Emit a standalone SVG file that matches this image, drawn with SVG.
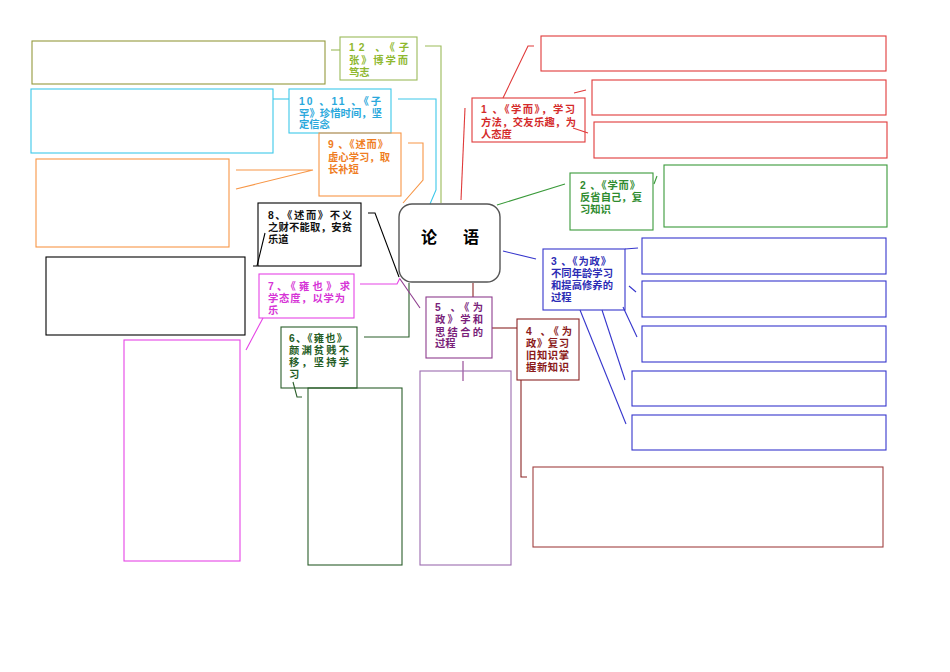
<svg xmlns="http://www.w3.org/2000/svg" width="950" height="672" viewBox="0 0 950 672">
<style>
rect{fill:none;stroke-width:1.1}
line,polyline{fill:none;stroke-width:1.1}
text{font-family:"Liberation Sans","Noto Sans CJK SC",sans-serif;font-size:10.3px;font-weight:bold}
.ol{stroke:#9bbb59}.olt{fill:#8fb82e}
.cy{stroke:#3cc8ea}.cyt{fill:#2aa8dc}
.or{stroke:#f79646}.ort{fill:#ef7d22}
.bk{stroke:#000}.bkt{fill:#111}
.mg{stroke:#e544e5}.mgt{fill:#d633d6}
.dg{stroke:#2a5e2a}.dgt{fill:#245c24}
.pu{stroke:#8e3c8e}.put{fill:#7a1f7a}
.dr{stroke:#8b2525}.drt{fill:#8b1a1a}
.bl{stroke:#3535cc}.blt{fill:#2b2bb5}
.gr{stroke:#3a9a3a}.grt{fill:#2e8b2e}
.rd{stroke:#e03a3a}.rdt{fill:#d42a2a}
</style>
<rect width="950" height="672" fill="#fff" style="stroke:none"/>

<g id="connectors">
  <polyline class="ol" points="331,50 340,50"/>
  <polyline class="ol" points="425,46 441,46 441,203"/>
  <polyline class="cy" points="273,99 289,99"/>
  <polyline class="cy" points="398,99 436,99 436,190 430,204"/>
  <polyline class="or" points="236,170 313,170 236,189"/>
  <polyline class="or" points="408,143 423,143 423,180 403,203"/>
  <polyline class="bk" points="253,266 257,266 265,233"/>
  <polyline class="bk" points="368,213 375,213 399,277"/>
  <polyline class="mg" points="263,318 246,350"/>
  <polyline class="mg" points="360,284 397,284 400,278"/>
  <polyline class="dg" points="293,382 297,397 302,397"/>
  <polyline class="dg" points="364,337 409,337 409,283"/>
  <polyline class="pu" points="400,279 420,308"/>
  <polyline class="pu" points="463,361 463,381"/>
  <polyline class="dr" points="473,283 473,297"/>
  <polyline class="dr" points="492,328 517,328"/>
  <polyline class="dr" points="521,380 521,477 527,477"/>
  <polyline class="bl" points="503,251 536,259"/>
  <polyline class="bl" points="625,249 638,248"/>
  <polyline class="bl" points="629,286 636,292"/>
  <polyline class="bl" points="623,307 637,337"/>
  <polyline class="bl" points="602,310 625,380"/>
  <polyline class="bl" points="580,310 626,424"/>
  <polyline class="gr" points="497,205 565,184"/>
  <polyline class="gr" points="654,184 657,176"/>
  <polyline class="rd" points="503,98 528,46 534,46"/>
  <polyline class="rd" points="574,93 586,90"/>
  <polyline class="rd" points="573,128 588,133"/>
  <polyline class="rd" points="465,108 461,200"/>
</g>

<g id="center">
  <rect x="399" y="204" width="101" height="78" rx="13" ry="13" style="stroke:#555;stroke-width:1.4"/>
  <text style="font-size:16px" fill="#000" y="243"><tspan x="421">论</tspan><tspan x="463">语</tspan></text>
</g>

<g id="node12">
  <rect class="ol" x="340" y="37" width="77" height="43"/>
  <text class="olt" x="349" y="51" textLength="60" lengthAdjust="spacing">12 、《子</text>
  <text class="olt" x="349" y="64" textLength="59" lengthAdjust="spacing">张》博学而</text>
  <text class="olt" x="349" y="76">笃志</text>
</g>
<g id="box12"><rect x="32" y="41" width="293" height="43" style="stroke:#949a3c"/></g>

<g id="node10">
  <rect class="cy" x="289" y="89" width="102" height="44"/>
  <text class="cyt" x="299" y="105" textLength="82" lengthAdjust="spacing">10 、11 、《子</text>
  <text class="cyt" x="299" y="117" textLength="83" lengthAdjust="spacing">罕》珍惜时间，坚</text>
  <text class="cyt" x="299" y="128">定信念</text>
</g>
<g id="box10"><rect class="cy" x="31" y="89" width="242" height="64"/></g>

<g id="node9">
  <rect class="or" x="319" y="133" width="82" height="63"/>
  <text class="ort" x="328" y="148" textLength="60" lengthAdjust="spacing">9 、《述而》</text>
  <text class="ort" x="328" y="161" textLength="62" lengthAdjust="spacing">虚心学习，取</text>
  <text class="ort" x="328" y="173">长补短</text>
</g>
<g id="box9"><rect class="or" x="36" y="159" width="193" height="88"/></g>

<g id="node8">
  <rect class="bk" x="258" y="203" width="103" height="63"/>
  <text class="bkt" x="268" y="219" textLength="84" lengthAdjust="spacing">8、《述而》不义</text>
  <text class="bkt" x="268" y="231" textLength="84" lengthAdjust="spacing">之财不能取，安贫</text>
  <text class="bkt" x="268" y="243">乐道</text>
</g>
<g id="box8"><rect class="bk" x="46" y="257" width="199" height="78"/></g>

<g id="node7">
  <rect class="mg" x="259" y="274" width="95" height="44"/>
  <text class="mgt" x="268" y="290" textLength="82" lengthAdjust="spacing">7、《雍也》求</text>
  <text class="mgt" x="268" y="302" textLength="77" lengthAdjust="spacing">学态度，以学为</text>
  <text class="mgt" x="268" y="314">乐</text>
</g>
<g id="box7"><rect class="mg" x="124" y="340" width="116" height="221"/></g>

<g id="node6">
  <rect class="dg" x="281" y="327" width="76" height="61"/>
  <text class="dgt" x="289" y="342" textLength="58" lengthAdjust="spacing">6、《雍也》</text>
  <text class="dgt" x="289" y="354" textLength="60" lengthAdjust="spacing">颜渊贫贱不</text>
  <text class="dgt" x="289" y="366" textLength="60" lengthAdjust="spacing">移，坚持学</text>
  <text class="dgt" x="289" y="378">习</text>
</g>
<g id="box6"><rect class="dg" x="308" y="388" width="94" height="177"/></g>

<g id="node5">
  <rect class="pu" x="426" y="297" width="66" height="61"/>
  <text class="put" x="435" y="311" textLength="48" lengthAdjust="spacing">5 、《为</text>
  <text class="put" x="435" y="323" textLength="48" lengthAdjust="spacing">政》学和</text>
  <text class="put" x="435" y="336" textLength="48" lengthAdjust="spacing">思结合的</text>
  <text class="put" x="435" y="347">过程</text>
</g>
<g id="box5"><rect x="420" y="371" width="91" height="194" style="stroke:#9c6cb0"/></g>

<g id="node4">
  <rect class="dr" x="517" y="319" width="62" height="61"/>
  <text class="drt" x="526" y="335" textLength="46" lengthAdjust="spacing">4 、《为</text>
  <text class="drt" x="526" y="347" textLength="43" lengthAdjust="spacing">政》复习</text>
  <text class="drt" x="526" y="359" textLength="43" lengthAdjust="spacing">旧知识掌</text>
  <text class="drt" x="526" y="371" textLength="43" lengthAdjust="spacing">握新知识</text>
</g>
<g id="box4"><rect x="533" y="467" width="350" height="80" style="stroke:#a04040"/></g>

<g id="node3">
  <rect class="bl" x="543" y="249" width="82" height="61"/>
  <text class="blt" x="551" y="265" textLength="60" lengthAdjust="spacing">3 、《为政》</text>
  <text class="blt" x="551" y="277" textLength="62" lengthAdjust="spacing">不同年龄学习</text>
  <text class="blt" x="551" y="289" textLength="62" lengthAdjust="spacing">和提高修养的</text>
  <text class="blt" x="551" y="301">过程</text>
</g>
<g id="box3a"><rect class="bl" x="642" y="238" width="244" height="36"/></g>
<g id="box3b"><rect class="bl" x="642" y="281" width="244" height="36"/></g>
<g id="box3c"><rect class="bl" x="642" y="326" width="244" height="36"/></g>
<g id="box3d"><rect class="bl" x="632" y="371" width="254" height="35"/></g>
<g id="box3e"><rect class="bl" x="632" y="415" width="254" height="35"/></g>

<g id="node2">
  <rect class="gr" x="570" y="173" width="83" height="57"/>
  <text class="grt" x="580" y="189" textLength="60" lengthAdjust="spacing">2 、《学而》</text>
  <text class="grt" x="580" y="201" textLength="62" lengthAdjust="spacing">反省自己，复</text>
  <text class="grt" x="580" y="213">习知识</text>
</g>
<g id="box2"><rect class="gr" x="664" y="165" width="223" height="62"/></g>

<g id="node1">
  <rect class="rd" x="472" y="98" width="113" height="44"/>
  <text class="rdt" x="481" y="113" textLength="94" lengthAdjust="spacing">1 、《学而》，学习</text>
  <text class="rdt" x="481" y="126" textLength="95" lengthAdjust="spacing">方法，交友乐趣，为</text>
  <text class="rdt" x="481" y="138">人态度</text>
</g>
<g id="box1a"><rect class="rd" x="541" y="36" width="345" height="35"/></g>
<g id="box1b"><rect class="rd" x="592" y="80" width="294" height="35"/></g>
<g id="box1c"><rect class="rd" x="594" y="122" width="293" height="36"/></g>
</svg>
